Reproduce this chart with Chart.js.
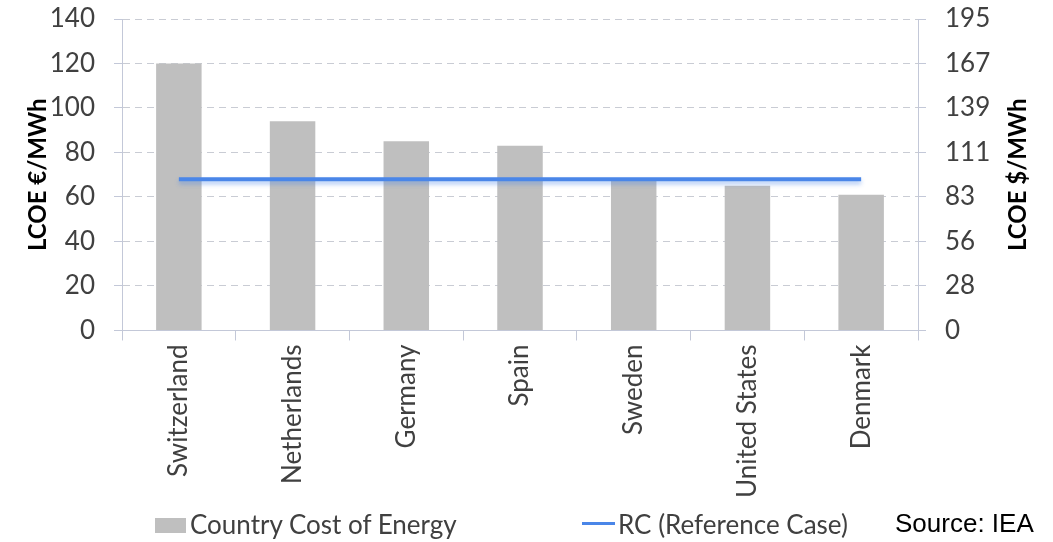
<!DOCTYPE html>
<html lang="en">
<head>
<meta charset="UTF-8">
<title>LCOE by Country</title>
<script src="https://cdn.jsdelivr.net/npm/chart.js@4.4.0/dist/chart.umd.min.js"></script>
<style>
    body { margin: 0; background: #fff; font-family: Lato, sans-serif; }
    .wrap { position: relative; width: 1053px; height: 542px; }
    .legend { position: absolute; top: 508px; font-size: 26px; color: #404040; white-space: nowrap; }
    .swatch { position: absolute; }
    .source { position: absolute; left: 895px; top: 508px; font-family: "Liberation Sans", Arial, sans-serif; font-size: 26px; color: #000; }
</style>
</head>
<body>
<div class="wrap">
    <canvas id="lcoe" width="1053" height="542"></canvas>
    <div class="legend" style="left:152px">
        <span class="swatch" style="left:3px; top:10px; width:31px; height:15px; background:#bfbfbf"></span>
        <span style="margin-left:38px">Country Cost of Energy</span>
    </div>
    <div class="legend" style="left:580px">
        <span class="swatch" style="left:2px; top:14px; width:33px; height:3px; background:#4a86e8"></span>
        <span style="margin-left:38px">RC (Reference Case)</span>
    </div>
    <div class="source">Source: IEA</div>
</div>
<script>
    const countries = ['Switzerland', 'Netherlands', 'Germany', 'Spain', 'Sweden', 'United States', 'Denmark'];
    const countryCost = [120, 94, 85, 83, 68, 65, 61];
    const referenceCase = [68, 68, 68, 68, 68, 68, 68];
    const dollarLabels = ['0', '28', '56', '83', '111', '139', '167', '195'];

    const axisColor = '#c3c8d8';
    const gridColor = '#c9ccd4';

    // right axis title reads bottom-to-top, so draw it by hand
    const rightTitle = {
        id: 'rightTitle',
        afterDraw(chart) {
            const s = chart.scales.y2;
            const ctx = chart.ctx;
            ctx.save();
            ctx.translate(s.right - 18, (chart.chartArea.top + chart.chartArea.bottom) / 2);
            ctx.rotate(-Math.PI / 2);
            ctx.font = 'bold 24px Lato';
            ctx.fillStyle = '#000';
            ctx.textAlign = 'center';
            ctx.textBaseline = 'middle';
            ctx.fillText('LCOE $/MWh', 0, 0);
            ctx.restore();
        }
    };

    // soft shadow under the reference line
    const lineShadow = {
        id: 'lineShadow',
        beforeDatasetDraw(chart, args) {
            if (args.index !== 0) return;
            const ctx = chart.ctx;
            ctx.save();
            ctx.shadowColor = 'rgba(74,134,232,0.45)';
            ctx.shadowBlur = 4;
            ctx.shadowOffsetY = 3;
        },
        afterDatasetDraw(chart, args) {
            if (args.index !== 0) return;
            chart.ctx.restore();
        }
    };

    function fixWidth(w) {
        return s => {
            s.width = w;
            s.paddingTop = 0;
            s.paddingBottom = 0;
        };
    }

    new Chart(document.getElementById('lcoe'), {
        data: {
            labels: countries,
            datasets: [
                {
                    type: 'line',
                    label: 'RC (Reference Case)',
                    data: referenceCase,
                    borderColor: '#4a86e8',
                    borderWidth: 4,
                    pointRadius: 0,
                    fill: false,
                    yAxisID: 'y'
                },
                {
                    type: 'bar',
                    label: 'Country Cost of Energy',
                    data: countryCost,
                    backgroundColor: '#bfbfbf',
                    barPercentage: 0.4,
                    categoryPercentage: 1.0,
                    yAxisID: 'y'
                }
            ]
        },
        options: {
            responsive: false,
            animation: false,
            layout: { padding: { top: 19, left: 20, right: 17, bottom: 40 } },
            plugins: {
                legend: { display: false },
                tooltip: { enabled: false }
            },
            scales: {
                x: {
                    grid: { drawOnChartArea: false, tickLength: 10, color: axisColor },
                    border: { color: axisColor, width: 1 },
                    ticks: {
                        autoSkip: false,
                        minRotation: 90,
                        maxRotation: 90,
                        padding: 4,
                        color: '#404040',
                        font: { family: 'Lato', size: 26 }
                    }
                },
                y: {
                    position: 'left',
                    min: 0,
                    max: 140,
                    afterFit: fixWidth(102),
                    ticks: {
                        stepSize: 10,
                        padding: 19,
                        color: '#404040',
                        font: { family: 'Lato', size: 26 },
                        callback: v => (v % 20 === 0 ? v : '')
                    },
                    grid: {
                        tickLength: 8,
                        color: ctx => (ctx.tick && ctx.tick.value % 20 === 0 ? gridColor : 'rgba(0,0,0,0)'),
                        tickColor: axisColor
                    },
                    border: { color: axisColor, width: 1, dash: [7, 5] },
                    title: {
                        display: true,
                        text: 'LCOE €/MWh',
                        color: '#000',
                        font: { family: 'Lato', size: 24, weight: 'bold' }
                    }
                },
                y2: {
                    position: 'right',
                    min: 0,
                    max: 140,
                    afterFit: fixWidth(118),
                    ticks: {
                        stepSize: 10,
                        padding: 19,
                        color: '#404040',
                        font: { family: 'Lato', size: 26 },
                        callback: v => (v % 20 === 0 ? dollarLabels[v / 20] : '')
                    },
                    grid: { drawOnChartArea: false, tickLength: 8, color: axisColor },
                    border: { color: axisColor, width: 1 },
                    title: {
                        display: true,
                        text: 'LCOE $/MWh',
                        color: 'rgba(0,0,0,0)',
                        font: { family: 'Lato', size: 24, weight: 'bold' }
                    }
                }
            }
        },
        plugins: [rightTitle, lineShadow]
    });
</script>
</body>
</html>
